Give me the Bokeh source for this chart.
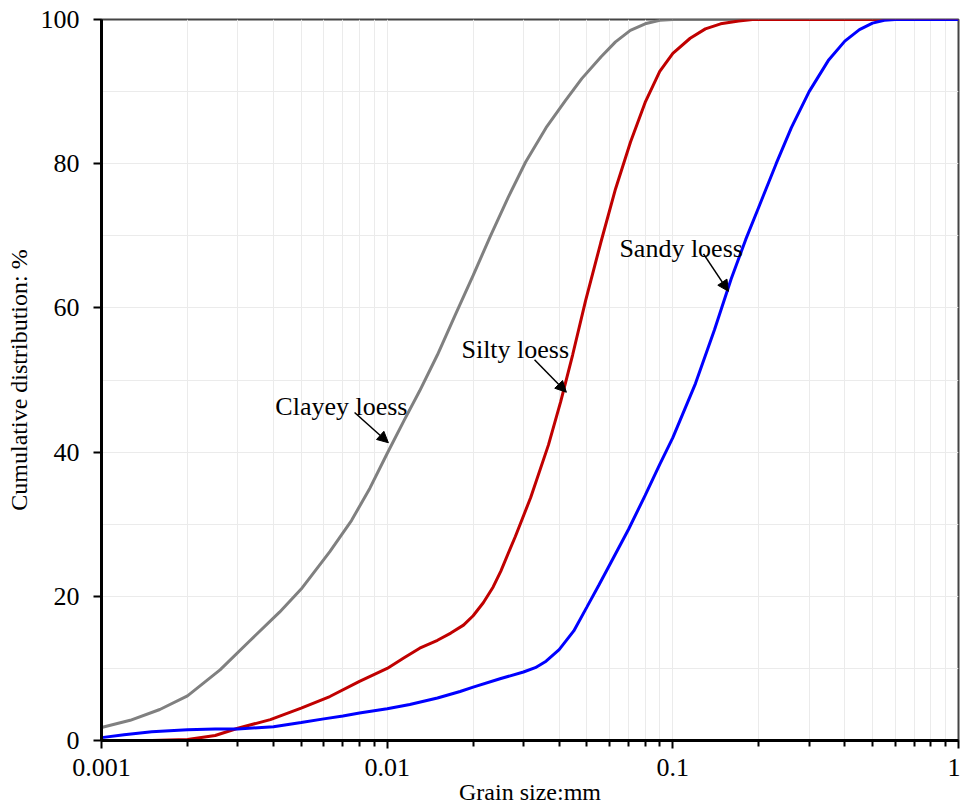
from bokeh.plotting import figure
from bokeh.models import (FixedTicker, CustomJSTickFormatter, Label, Arrow,
                          NormalHead, Range1d)
from bokeh.embed import file_html
from bokeh.resources import INLINE

# ---- data ----
clayey_x = [0.001, 0.00126, 0.0016, 0.002, 0.0026, 0.0033, 0.0042, 0.005,
            0.0063, 0.0075, 0.0087, 0.01, 0.0115, 0.013, 0.015, 0.0173, 0.02,
            0.023, 0.0265, 0.0305, 0.036, 0.042, 0.048, 0.056, 0.063, 0.071,
            0.08, 0.09, 0.1, 1.0]
clayey_y = [1.8, 2.8, 4.3, 6.2, 9.8, 13.8, 17.8, 21.0,
            26.2, 30.5, 35.0, 39.8, 44.5, 48.5, 53.5, 59.0, 64.5,
            70.0, 75.3, 80.2, 85.0, 88.7, 91.8, 94.8, 96.9, 98.5,
            99.4, 99.9, 100.0, 100.0]

silty_x = [0.001, 0.0015, 0.002, 0.0025, 0.003, 0.0039, 0.005, 0.0063, 0.008,
           0.01, 0.0115, 0.013, 0.015, 0.0167, 0.0185, 0.02, 0.0217, 0.0235,
           0.025, 0.0281, 0.0318, 0.0367, 0.0405, 0.0446, 0.0495, 0.0559,
           0.063, 0.0711, 0.08, 0.09, 0.1, 0.115, 0.13, 0.147, 0.17, 0.19, 1.0]
silty_y = [0.0, 0.0, 0.15, 0.7, 1.7, 2.9, 4.5, 6.1, 8.2,
           10.0, 11.5, 12.8, 13.9, 14.9, 16.0, 17.3, 19.1, 21.3,
           23.5, 28.3, 33.7, 41.0, 47.0, 53.5, 61.0, 69.0,
           76.5, 83.0, 88.5, 92.8, 95.3, 97.4, 98.7, 99.4, 99.8, 100.0, 100.0]

sandy_x = [0.001, 0.0012, 0.0015, 0.002, 0.0025, 0.003, 0.004, 0.005, 0.006,
           0.007, 0.008, 0.01, 0.012, 0.015, 0.018, 0.02, 0.025, 0.03, 0.033,
           0.036, 0.04, 0.045, 0.05, 0.055, 0.06, 0.07, 0.08, 0.09, 0.1, 0.12,
           0.14, 0.16, 0.18, 0.2, 0.23, 0.26, 0.3, 0.35, 0.4, 0.45, 0.5, 0.55,
           0.6, 1.0]
sandy_y = [0.4, 0.8, 1.2, 1.5, 1.6, 1.6, 1.9, 2.5, 3.0,
           3.4, 3.8, 4.4, 5.0, 5.9, 6.8, 7.4, 8.6, 9.5, 10.1,
           11.0, 12.6, 15.2, 18.5, 21.5, 24.3, 29.3, 34.0, 38.3, 42.0, 49.5,
           57.0, 64.0, 69.5, 74.0, 80.0, 85.0, 90.0, 94.3, 97.0, 98.6, 99.5, 99.9,
           100.0, 100.0]

x_major = [0.001, 0.01, 0.1, 1.0]
x_minor = [m * d for d in (0.001, 0.01, 0.1) for m in range(2, 10)]
y_major = [0, 20, 40, 60, 80, 100]
y_minor = [10, 30, 50, 70, 90]

FONT = "Liberation Serif"
GRID = "#ebebeb"

p = figure(width=960, height=809, x_axis_type="log",
           x_range=Range1d(0.001, 1.0), y_range=Range1d(0, 100),
           output_backend="svg", toolbar_location=None,
           min_border_left=101, min_border_right=2,
           min_border_top=19, min_border_bottom=69)
p.background_fill_color = "white"
p.border_fill_color = "white"
p.outline_line_color = "#444444"
p.outline_line_width = 2

p.line(clayey_x, clayey_y, line_color="#808080", line_width=3)
p.line(silty_x, silty_y, line_color="#c00000", line_width=3)
p.line(sandy_x, sandy_y, line_color="#0000ff", line_width=3)

# axes
p.xaxis.ticker = FixedTicker(ticks=x_major, minor_ticks=x_minor)
p.xaxis.formatter = CustomJSTickFormatter(code="return tick.toString();")
p.yaxis.ticker = FixedTicker(ticks=y_major, minor_ticks=y_minor)

for ax in (p.xaxis[0], p.yaxis[0]):
    ax.axis_line_color = "black"
    ax.axis_line_width = 3
    ax.major_tick_line_color = "black"
    ax.major_tick_line_width = 2
    ax.major_tick_out = 8
    ax.major_tick_in = 0
    ax.major_label_text_font = FONT
    ax.major_label_text_font_size = "26px"
    ax.major_label_text_color = "black"
    ax.axis_label_text_font = FONT
    ax.axis_label_text_font_style = "normal"
    ax.axis_label_text_font_size = "24px"
    ax.axis_label_text_color = "black"

p.xaxis.minor_tick_line_color = "black"
p.xaxis.minor_tick_line_width = 2
p.xaxis.minor_tick_out = 6
p.xaxis.minor_tick_in = 0
p.yaxis.minor_tick_line_color = None

p.xaxis.axis_label = "Grain size:mm"
p.yaxis.axis_label = "Cumulative distribution: %"
p.xaxis.major_label_standoff = 10
p.yaxis.major_label_standoff = 14
p.xaxis.axis_label_standoff = 0
p.yaxis.axis_label_standoff = 6

p.xgrid.grid_line_color = GRID
p.xgrid.minor_grid_line_color = GRID
p.ygrid.grid_line_color = GRID
p.ygrid.minor_grid_line_color = GRID
p.xgrid.ticker = p.xaxis.ticker
p.ygrid.ticker = p.yaxis.ticker

# annotations
def note(x, y, text):
    p.add_layout(Label(x=x, y=y, text=text, text_font=FONT,
                       text_font_size="26px", text_color="black",
                       text_baseline="alphabetic", text_align="left"))

def pointer(x0, y0, x1, y1):
    p.add_layout(Arrow(end=NormalHead(size=11, fill_color="black",
                                      line_color="black", line_width=1),
                       x_start=x0, y_start=y0, x_end=x1, y_end=y1,
                       line_color="black", line_width=1.5))

note(0.00406, 46.3, "Clayey loess")
pointer(0.00769, 45.5, 0.0101, 41.3)
note(0.0182, 54.2, "Silty loess")
pointer(0.0328, 52.8, 0.0424, 48.3)
note(0.0650, 68.2, "Sandy loess")
pointer(0.128, 67.5, 0.1566, 62.3)

open("out.html", "w").write(file_html(p, INLINE))
